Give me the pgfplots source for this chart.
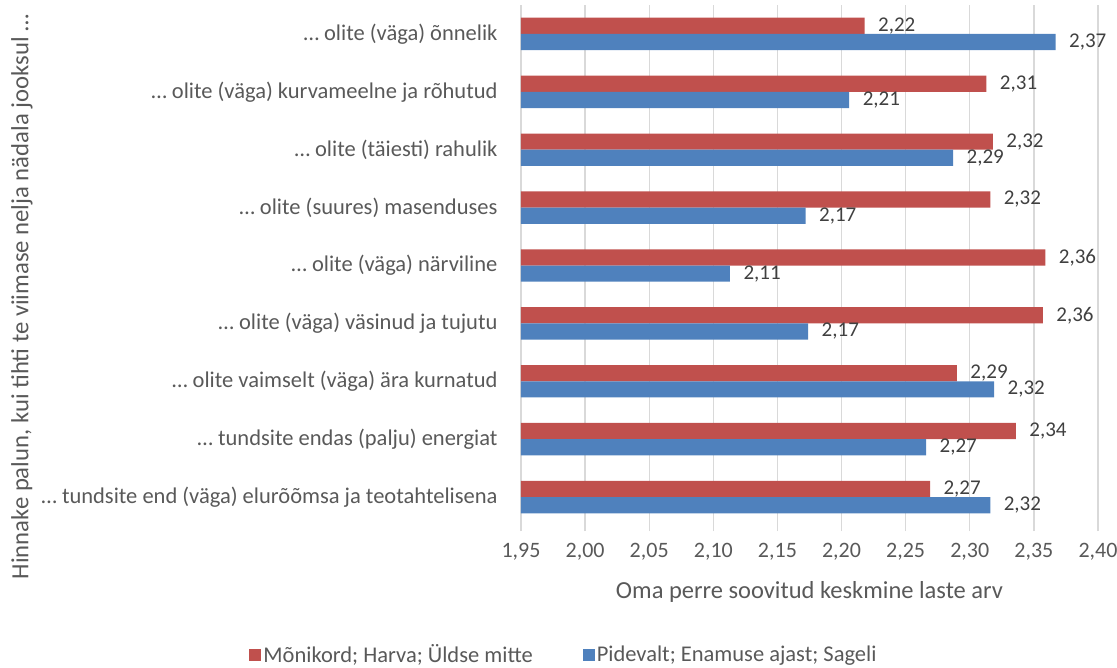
\documentclass[border=0pt]{standalone}
\usepackage{pgfplots}
\pgfplotsset{compat=1.18}
\usepackage{fontspec}
\setmainfont{Carlito}
\definecolor{cred}{HTML}{C0504D}
\definecolor{cblue}{HTML}{4F81BD}
\definecolor{gridc}{HTML}{D9D9D9}
\definecolor{txt}{HTML}{595959}
\definecolor{lbl}{HTML}{404040}
\newcommand\fcat{\fontsize{22.5bp}{26bp}\selectfont}
\newcommand\fyl{\fontsize{24.7bp}{28bp}\selectfont}
\newcommand\ftick{\fontsize{22bp}{26bp}\selectfont}
\newcommand\fnode{\fontsize{21bp}{25bp}\selectfont}
\newcommand\fxl{\fontsize{24.5bp}{28bp}\selectfont}
\pgfkeys{/pgf/number format/assume math mode=true}
\begin{document}
\begin{tikzpicture}
\path[use as bounding box] (-521bp,-142bp) rectangle (596bp,526bp);
\begin{axis}[
  at={(0,0)}, anchor=south west,
  scale only axis, width=577bp, height=521bp,
  xbar, bar width=0.28,
  xmin=1.95, xmax=2.40, ymin=-0.5, ymax=8.5, y dir=reverse,
  xtick={1.95,2.00,2.05,2.10,2.15,2.20,2.25,2.30,2.35,2.40},
  ytick={0,1,2,3,4,5,6,7,8},
  yticklabels={{\dots{} olite (väga) õnnelik},
               {\dots{} olite (väga) kurvameelne ja rõhutud},
               {\dots{} olite (täiesti) rahulik},
               {\dots{} olite (suures) masenduses},
               {\dots{} olite (väga) närviline},
               {\dots{} olite (väga) väsinud ja tujutu},
               {\dots{} olite vaimselt (väga) ära kurnatud},
               {\dots{} tundsite endas (palju) energiat},
               {\dots{} tundsite end (väga) elurõõmsa ja teotahtelisena}},
  xmajorgrids, grid style={gridc, line width=1.3bp},
  axis line style={draw=none},
  tick pos=bottom, tick align=outside, major tick length=5bp,
  xtick style={gridc, line width=1.3bp},
  ytick style={draw=none},
  xticklabel style={font=\ftick, text=txt, anchor=north, yshift=-9bp,
    /pgf/number format/.cd, fixed, fixed zerofill, precision=2, use comma},
  yticklabel style={font=\fcat, text=txt, anchor=east, xshift=-15bp},
  xlabel={Oma perre soovitud keskmine laste arv},
  xlabel style={font=\fxl, text=txt, at={(axis description cs:0.5,0)}, anchor=center, yshift=-66bp},
  ylabel={Hinnake palun, kui tihti te viimase nelja nädala jooksul \dots},
  ylabel style={font=\fyl, text=txt, at={(axis description cs:-0.865,0.44)}, anchor=center, rotate=0},
  clip mode=individual,
  nodes near coords={\pgfmathprintnumber[fixed, fixed zerofill, precision=2, use comma]{\pgfplotspointmeta}},
  nodes near coords style={font=\fnode, text=lbl, anchor=west, xshift=10bp},
  legend style={draw=none, fill=none, font=\fcat, text=txt, at={(axis description cs:0.0745,-0.247)}, anchor=center,
    legend columns=2, /tikz/every even column/.append style={column sep=48bp}},
  legend image code/.code={\fill[#1, draw=none] (0bp,-6bp) rectangle (12bp,6bp);},
]
\addplot[fill=cred, draw=none, bar shift=-0.14] coordinates {
  (2.218,0) (2.313,1) (2.318,2) (2.316,3) (2.359,4) (2.357,5) (2.290,6) (2.336,7) (2.269,8)};
\addlegendentry{Mõnikord; Harva; Üldse mitte}
\addplot[fill=cblue, draw=none, bar shift=0.14] coordinates {
  (2.367,0) (2.206,1) (2.287,2) (2.172,3) (2.113,4) (2.174,5) (2.319,6) (2.266,7) (2.316,8)};
\addlegendentry{Pidevalt; Enamuse ajast; Sageli}
\end{axis}
\end{tikzpicture}
\end{document}
